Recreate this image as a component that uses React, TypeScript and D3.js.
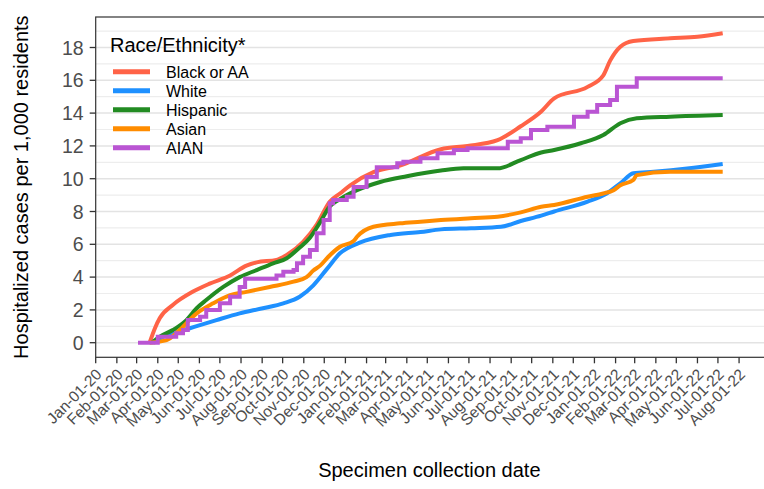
import React from 'react'
import * as d3 from 'd3'

// cumulative hospitalized cases per 1,000 residents
const blackAA: [string, number][] = [
  ['2020-03-20', 0], ['2020-03-28', 0.9], ['2020-04-04', 1.5], ['2020-04-23', 2.3],
  ['2020-05-22', 3.1], ['2020-06-16', 3.6], ['2020-07-16', 4.1], ['2020-08-09', 4.7],
  ['2020-08-24', 4.9], ['2020-09-22', 5.05], ['2020-10-07', 5.35], ['2020-10-31', 6.15],
  ['2020-11-20', 7.2], ['2020-12-09', 8.6], ['2020-12-24', 9.1], ['2021-01-08', 9.6],
  ['2021-02-11', 10.4], ['2021-03-22', 10.8], ['2021-05-21', 11.8], ['2021-06-29', 12.0],
  ['2021-08-12', 12.35], ['2021-09-15', 13.2], ['2021-10-15', 14.1], ['2021-11-03', 14.9],
  ['2021-12-22', 15.6], ['2022-01-14', 16.3], ['2022-01-24', 17.2], ['2022-02-08', 18.05],
  ['2022-02-27', 18.4], ['2022-04-22', 18.56], ['2022-06-01', 18.66], ['2022-07-08', 18.87],
]

const white: [string, number][] = [
  ['2020-03-25', 0], ['2020-04-09', 0.37], ['2020-05-18', 0.88], ['2020-06-26', 1.38],
  ['2020-07-30', 1.79], ['2020-09-02', 2.1], ['2020-10-02', 2.4], ['2020-10-26', 2.8],
  ['2020-11-15', 3.5], ['2020-12-05', 4.5], ['2020-12-24', 5.45], ['2021-01-22', 6.1],
  ['2021-03-08', 6.57], ['2021-04-21', 6.75], ['2021-05-21', 6.91], ['2021-07-04', 6.98],
  ['2021-08-17', 7.07], ['2021-09-15', 7.42], ['2021-10-15', 7.75], ['2021-11-03', 8.0],
  ['2021-12-22', 8.6], ['2022-01-19', 9.1], ['2022-02-08', 9.72], ['2022-02-27', 10.33],
  ['2022-03-29', 10.43], ['2022-05-17', 10.63], ['2022-07-08', 10.9],
]

const hispanic: [string, number][] = [
  ['2020-03-23', 0], ['2020-04-04', 0.37], ['2020-04-23', 0.77], ['2020-05-13', 1.38],
  ['2020-05-28', 2.1], ['2020-06-11', 2.6], ['2020-07-06', 3.4], ['2020-07-30', 4.0],
  ['2020-08-24', 4.43], ['2020-09-17', 4.84], ['2020-10-07', 5.15], ['2020-10-26', 5.8],
  ['2020-11-10', 6.4], ['2020-11-25', 7.35], ['2020-12-09', 8.3], ['2020-12-24', 8.75],
  ['2021-01-18', 9.3], ['2021-02-21', 9.8], ['2021-04-01', 10.15], ['2021-05-21', 10.5],
  ['2021-06-23', 10.63], ['2021-08-12', 10.63], ['2021-09-15', 11.14], ['2021-10-15', 11.6],
  ['2021-11-03', 11.75], ['2021-12-12', 12.16], ['2022-01-14', 12.66], ['2022-02-08', 13.38],
  ['2022-03-04', 13.68], ['2022-04-22', 13.78], ['2022-07-08', 13.88],
]

const asian: [string, number][] = [
  ['2020-03-20', 0], ['2020-04-14', 0.16], ['2020-05-03', 0.77], ['2020-05-28', 1.79],
  ['2020-06-21', 2.4], ['2020-07-16', 2.9], ['2020-08-09', 3.1], ['2020-09-12', 3.4],
  ['2020-10-17', 3.72], ['2020-11-05', 4.0], ['2020-11-15', 4.4], ['2020-11-25', 4.7],
  ['2020-12-07', 5.24], ['2020-12-24', 5.85], ['2021-01-13', 6.2], ['2021-01-18', 6.46],
  ['2021-02-11', 7.07], ['2021-03-22', 7.28], ['2021-04-21', 7.38], ['2021-05-21', 7.48],
  ['2021-07-04', 7.59], ['2021-08-12', 7.68], ['2021-09-15', 7.95], ['2021-10-15', 8.29],
  ['2021-11-03', 8.4], ['2021-12-22', 8.9], ['2022-01-14', 9.1], ['2022-01-29', 9.3],
  ['2022-02-08', 9.6], ['2022-02-27', 9.92], ['2022-03-04', 10.22], ['2022-04-22', 10.43],
  ['2022-07-08', 10.43],
]

const aian: [string, number][] = [
  ['2020-03-03', 0], ['2020-04-01', 0.37], ['2020-04-28', 0.57], ['2020-05-08', 0.77],
  ['2020-05-15', 1.38], ['2020-06-02', 1.59], ['2020-06-11', 2.0], ['2020-07-01', 2.4],
  ['2020-07-16', 2.8], ['2020-07-30', 3.4], ['2020-08-07', 3.9], ['2020-09-22', 4.1],
  ['2020-10-02', 4.33], ['2020-10-17', 4.43], ['2020-10-22', 4.84], ['2020-10-31', 5.24],
  ['2020-11-10', 5.65], ['2020-11-20', 6.67], ['2020-11-30', 7.48], ['2020-12-09', 8.5],
  ['2020-12-14', 8.7], ['2021-01-03', 8.9], ['2021-01-13', 9.5], ['2021-02-01', 10.1],
  ['2021-02-16', 10.7], ['2021-03-18', 10.94], ['2021-03-27', 11.04], ['2021-04-21', 11.24],
  ['2021-05-16', 11.55], ['2021-06-09', 11.75], ['2021-06-29', 11.85], ['2021-08-27', 12.26],
  ['2021-09-15', 12.46], ['2021-09-30', 12.97], ['2021-10-24', 13.17], ['2021-12-02', 13.78],
  ['2021-12-22', 14.08], ['2022-01-05', 14.49], ['2022-01-24', 14.8], ['2022-02-03', 15.6],
  ['2022-03-04', 16.12], ['2022-07-08', 16.12],
]

const seriesNames = ['Black or AA', 'White', 'Hispanic', 'Asian', 'AIAN']
const seriesColors = ['#FF6347', '#1E90FF', '#228B22', '#FF8C00', '#BA55D3']
const seriesData = [blackAA, white, hispanic, asian, aian]
const yTicks = [0, 2, 4, 6, 8, 10, 12, 14, 16, 18]

const W = 764
const H = 489
const left = 95.7
const right = 765
const top = 17
const bottom = 357.3

const parse = d3.timeParse('%Y-%m-%d')
const fmt = d3.timeFormat('%b-%d-%y')
const font = 'Arial, "Liberation Sans", sans-serif'

const App = () => {
  const x = d3.scaleTime()
    .domain([parse('2020-01-01')!, parse('2022-09-08')!])
    .range([left, right])
  const y = d3.scaleLinear().domain([-0.89, 19.86]).range([bottom, top])

  const xTicks = d3.timeMonth.range(parse('2020-01-01')!, parse('2022-08-02')!)
  const minor = d3.range(-1, 20, 2).filter((v) => v > -0.89 && v < 19.86)

  const smooth = d3.line<[string, number]>()
    .x((d) => x(parse(d[0])!))
    .y((d) => y(d[1]))
    .curve(d3.curveMonotoneX)
  const step = d3.line<[string, number]>()
    .x((d) => x(parse(d[0])!))
    .y((d) => y(d[1]))
    .curve(d3.curveStepAfter)

  return (
    <svg width={W} height={H} style={{ position: 'absolute', left: 0, top: 0, background: '#fff' }} fontFamily={font}>
      {/* grid */}
      {minor.map((v) => (
        <line key={'m' + v} x1={left} x2={right} y1={y(v)} y2={y(v)} stroke="#ededed" strokeWidth={1.2} />
      ))}
      {yTicks.map((v) => (
        <line key={'g' + v} x1={left} x2={right} y1={y(v)} y2={y(v)} stroke="#e3e3e3" strokeWidth={1.5} />
      ))}

      {/* series */}
      {seriesData.map((s, i) => (
        <path
          key={seriesNames[i]}
          d={(seriesNames[i] === 'AIAN' ? step : smooth)(s) || ''}
          fill="none"
          stroke={seriesColors[i]}
          strokeWidth={4}
        />
      ))}

      {/* panel border */}
      <rect x={left} y={top} width={right - left} height={bottom - top} fill="none" stroke="#333" strokeWidth={1.2} />

      {/* y axis */}
      {yTicks.map((v) => (
        <g key={'y' + v}>
          <line x1={left - 6} x2={left} y1={y(v)} y2={y(v)} stroke="#333" strokeWidth={1.3} />
          <text x={left - 12} y={y(v)} dy="0.36em" textAnchor="end" fontSize={19.5} fill="#4d4d4d">{v}</text>
        </g>
      ))}

      {/* x axis */}
      {xTicks.map((d) => (
        <g key={'x' + +d}>
          <line x1={x(d)} x2={x(d)} y1={bottom} y2={bottom + 6} stroke="#333" strokeWidth={1.3} />
          <text
            transform={`translate(${x(d) + 7},${bottom + 18}) rotate(-45)`}
            textAnchor="end"
            fontSize={15.5}
            fill="#4d4d4d"
          >
            {fmt(d)}
          </text>
        </g>
      ))}

      {/* axis titles */}
      <text x={(left + 763) / 2} y={477} textAnchor="middle" fontSize={20} fill="#000">Specimen collection date</text>
      <text transform={`translate(28,${(top + bottom) / 2}) rotate(-90)`} textAnchor="middle" fontSize={20} fill="#000">
        Hospitalized cases per 1,000 residents
      </text>

      {/* legend */}
      <text x={110} y={52} fontSize={20} fill="#000">Race/Ethnicity*</text>
      {seriesNames.map((n, i) => (
        <g key={'l' + n} transform={`translate(0,${71.8 + i * 19})`}>
          <line x1={113} x2={150} y1={0} y2={0} stroke={seriesColors[i]} strokeWidth={5} />
          <text x={166} y={0} dy="0.36em" fontSize={16} fill="#000">{n}</text>
        </g>
      ))}
    </svg>
  )
}

export default App
